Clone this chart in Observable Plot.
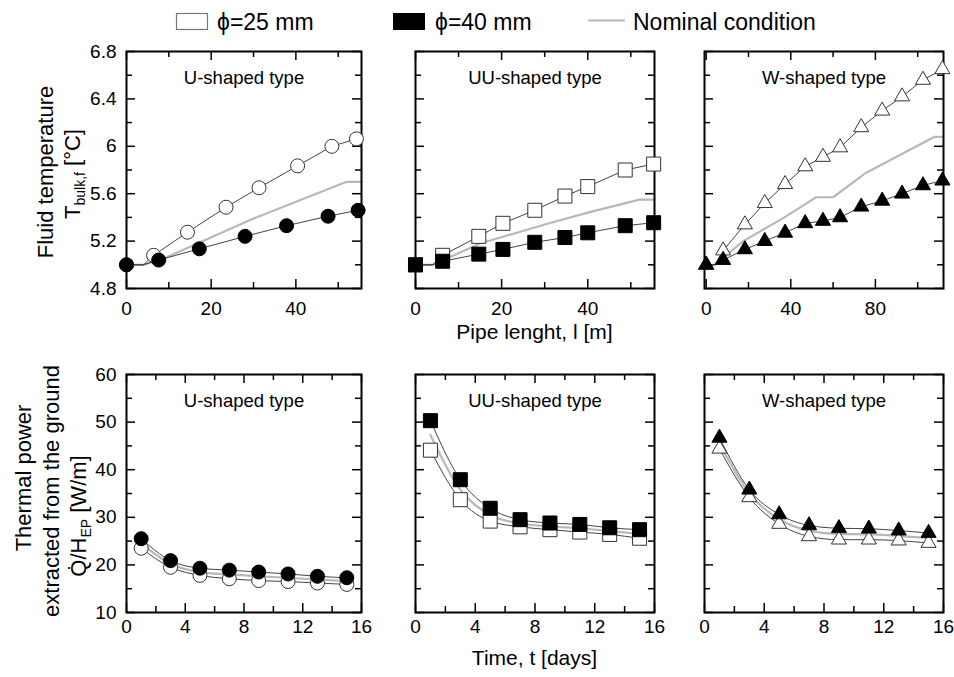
<!DOCTYPE html>
<html><head><meta charset="utf-8">
<script src="https://cdn.jsdelivr.net/npm/d3@7"></script>
<script src="https://cdn.jsdelivr.net/npm/@observablehq/plot@0.6"></script>
<style>
body{margin:0;background:#fff;}
#chart{position:relative;width:954px;height:677px;overflow:hidden;}
#chart svg{position:absolute;}
</style></head><body><div id="chart"></div>
<script>
// ---------- DATA ----------
// Top row: fluid temperature [°C] vs pipe length [m]
const flatStartLen = [0, 4];           // inlet section where lines stay flat
const inletT = 5.0;

const uLen25 = [0, 6.4, 14.4, 23.5, 31.3, 40.4, 48.5, 54.3];
const uT25   = [5.0, 5.08, 5.275, 5.486, 5.65, 5.835, 6.0, 6.063];
const uLen40 = [0, 7.6, 17.2, 28.0, 37.8, 47.6, 54.7];
const uT40   = [5.0, 5.04, 5.135, 5.24, 5.33, 5.41, 5.46];
const uNomLen = [0, 4, 8.6, 30, 52, 55.5];
const uNomT   = [5.0, 5.0, 5.05, 5.39, 5.70, 5.70];

const uuLen  = [0, 6.3, 14.7, 20.3, 27.7, 34.7, 40.0, 48.7, 55.3];
const uuT25  = [5.0, 5.08, 5.24, 5.35, 5.46, 5.58, 5.66, 5.80, 5.85];
const uuT40  = [5.0, 5.03, 5.09, 5.13, 5.19, 5.23, 5.27, 5.33, 5.355];
const uuNomLen = [0, 4, 15, 30, 40, 52, 55.5];
const uuNomT   = [5.0, 5.0, 5.18, 5.34, 5.44, 5.55, 5.55];

const wLen  = [0, 8.0, 18.3, 27.7, 37.3, 46.8, 55.2, 63.3, 73.3, 83.2, 92.6, 102.5, 111.7];
const wT25  = [5.0, 5.12, 5.34, 5.52, 5.68, 5.83, 5.91, 5.99, 6.16, 6.30, 6.42, 6.56, 6.65];
const wT40  = [5.0, 5.04, 5.13, 5.20, 5.27, 5.35, 5.37, 5.40, 5.49, 5.54, 5.60, 5.67, 5.71];
const wNomLen = [0, 4, 17.5, 37, 52, 60, 75, 108, 112];
const wNomT   = [5.0, 5.0, 5.2, 5.4, 5.57, 5.57, 5.77, 6.08, 6.08];

// Bottom row: thermal power [W/m] vs time [days]
const days   = [1, 3, 5, 7, 9, 11, 13, 15];
const uQ25   = [23.5, 19.5, 17.8, 17.1, 16.7, 16.5, 16.2, 15.9];
const uQ40   = [25.5, 20.9, 19.3, 18.9, 18.5, 18.1, 17.6, 17.3];
const uQnom  = [24.5, 20.2, 18.5, 18.0, 17.6, 17.3, 16.9, 16.6];
const uuQ25  = [44.1, 33.7, 29.2, 28.0, 27.4, 26.9, 26.4, 25.6];
const uuQ40  = [50.3, 37.9, 31.9, 29.5, 28.8, 28.5, 27.8, 27.4];
const uuQnom = [47.3, 35.8, 30.5, 28.7, 28.1, 27.7, 27.1, 26.5];
const wQ25   = [44.4, 34.2, 28.6, 26.0, 25.3, 25.3, 25.1, 24.6];
const wQ40   = [46.7, 35.8, 30.6, 28.3, 27.7, 27.6, 27.2, 26.7];
const wQnom  = [45.5, 35.0, 29.6, 27.2, 26.5, 26.4, 26.1, 25.6];

// Ticks
const lenTicks = [0, 20, 40], lenMinor = [10, 30, 50];
const wLenTicks = [0, 40, 80], wLenMinor = [20, 60, 100];
const tTicks = [4.8, 5.2, 5.6, 6, 6.4, 6.8], tMinor = [5.0, 5.4, 5.8, 6.2, 6.6];
const dayTicks = [0, 4, 8, 12, 16], dayMinor = [2, 6, 10, 14];
const qTicks = [10, 20, 30, 40, 50, 60], qMinor = [15, 25, 35, 45, 55];

const titles = ["U-shaped type", "UU-shaped type", "W-shaped type"];
const legendLabels = ["\u03D5=25 mm", "\u03D5=40 mm", "Nominal condition"];

// ---------- LAYOUT ----------
const FONT = '"Liberation Sans", Arial, Helvetica, sans-serif';
const cols = [[126, 361], [415, 654], [704, 943]];
const rows = [[51, 288], [374, 612]];
const M = {l: 60, r: 20, t: 20, b: 40};

const pts = (xs, ys) => xs.map((x, i) => ({x, y: ys[i]}));
const withFlat = (xs, ys) => [...flatStartLen.map(x => ({x, y: inletT})), ...pts(xs, ys).slice(1)];

function panel(cfg) {
  const [x0, x1] = cfg.col, [y0, y1] = cfg.row;
  const fw = x1 - x0, fh = y1 - y0;
  const tk = {stroke: "black", strokeWidth: 1.5};
  const big = 9, small = 6;
  const marks = [
    Plot.line(cfg.nominal, {x: "x", y: "y", stroke: "#b8b8b8", strokeWidth: 2.2, curve: cfg.curve}),
    Plot.line(cfg.openLine, {x: "x", y: "y", stroke: "#444", strokeWidth: 1, curve: cfg.curve}),
    Plot.line(cfg.filledLine, {x: "x", y: "y", stroke: "#444", strokeWidth: 1, curve: cfg.curve}),
    Plot.ruleX(cfg.xMajor, {...tk, insetTop: fh - big}),
    Plot.ruleX(cfg.xMajor, {...tk, insetBottom: fh - big}),
    Plot.ruleX(cfg.xMinor, {...tk, insetTop: fh - small}),
    Plot.ruleX(cfg.xMinor, {...tk, insetBottom: fh - small}),
    Plot.ruleY(cfg.yMajor, {...tk, insetRight: fw - big}),
    Plot.ruleY(cfg.yMajor, {...tk, insetLeft: fw - big}),
    Plot.ruleY(cfg.yMinor, {...tk, insetRight: fw - small}),
    Plot.ruleY(cfg.yMinor, {...tk, insetLeft: fw - small}),
    Plot.axisX({ticks: cfg.xMajor, tickSize: 0, tickPadding: cfg.xPad, tickFormat: d => `${d}`, fontSize: 19, label: null}),
    Plot.frame({stroke: "black", strokeWidth: 2}),
    Plot.text([cfg.title], {text: d => d, frameAnchor: "top", lineAnchor: "middle", dy: 27, fontSize: 18.5, fill: "black"}),
    Plot.dot(cfg.openPts, {x: "x", y: "y", symbol: cfg.symbol, r: cfg.r, fill: "white", stroke: "#333", strokeWidth: 1}),
    Plot.dot(cfg.filledPts, {x: "x", y: "y", symbol: cfg.symbol, r: cfg.r, fill: "black", stroke: "black", strokeWidth: 1})
  ];
  if (cfg.showY) marks.push(Plot.axisY({ticks: cfg.yMajor, tickSize: 0, tickPadding: 10, tickFormat: d => `${d}`, fontSize: 19, label: null}));
  const svg = Plot.plot({
    width: fw + M.l + M.r, height: fh + M.t + M.b,
    marginLeft: M.l, marginRight: M.r, marginTop: M.t, marginBottom: M.b,
    x: {domain: cfg.xDomain, label: null},
    y: cfg.showY ? {domain: cfg.yDomain, label: null} : {domain: cfg.yDomain, axis: null, label: null},
    style: {fontFamily: FONT, fontSize: "19px", color: "black", background: "transparent", overflow: "visible"},
    marks
  });
  svg.style.position = "absolute";
  svg.style.left = (x0 - M.l) + "px";
  svg.style.top = (y0 - M.t) + "px";
  svg.style.maxWidth = "none";
  return svg;
}

const chart = document.getElementById("chart");
const topCommon = {row: rows[0], yDomain: [4.8, 6.8], yMajor: tTicks, yMinor: tMinor, xPad: 13, curve: "linear"};
const botCommon = {row: rows[1], xDomain: [0, 16], xMajor: dayTicks, xMinor: dayMinor, yDomain: [10, 60], yMajor: qTicks, yMinor: qMinor, xPad: 7, curve: "monotone-x"};

const panels = [
  {...topCommon, col: cols[0], showY: true, title: titles[0], xDomain: [0, 55.5], xMajor: lenTicks, xMinor: lenMinor,
   symbol: "circle", r: 7,
   openPts: pts(uLen25, uT25), filledPts: pts(uLen40, uT40),
   openLine: withFlat(uLen25, uT25), filledLine: withFlat(uLen40, uT40), nominal: pts(uNomLen, uNomT)},
  {...topCommon, col: cols[1], showY: false, title: titles[1], xDomain: [0, 55.5], xMajor: lenTicks, xMinor: lenMinor,
   symbol: "square", r: 7.9,
   openPts: pts(uuLen, uuT25), filledPts: pts(uuLen, uuT40),
   openLine: withFlat(uuLen, uuT25), filledLine: withFlat(uuLen, uuT40), nominal: pts(uuNomLen, uuNomT)},
  {...topCommon, col: cols[2], showY: false, title: titles[2], xDomain: [-0.8, 112.2], xMajor: wLenTicks, xMinor: wLenMinor,
   symbol: "triangle", r: 5.6,
   openPts: pts(wLen, wT25), filledPts: pts(wLen, wT40),
   openLine: withFlat(wLen, wT25), filledLine: withFlat(wLen, wT40), nominal: pts(wNomLen, wNomT)},
  {...botCommon, col: cols[0], showY: true, title: titles[0], symbol: "circle", r: 7,
   openPts: pts(days, uQ25), filledPts: pts(days, uQ40),
   openLine: pts(days, uQ25), filledLine: pts(days, uQ40), nominal: pts(days, uQnom)},
  {...botCommon, col: cols[1], showY: false, title: titles[1], symbol: "square", r: 7.9,
   openPts: pts(days, uuQ25), filledPts: pts(days, uuQ40),
   openLine: pts(days, uuQ25), filledLine: pts(days, uuQ40), nominal: pts(days, uuQnom)},
  {...botCommon, col: cols[2], showY: false, title: titles[2], symbol: "triangle", r: 5.6,
   openPts: pts(days, wQ25), filledPts: pts(days, wQ40),
   openLine: pts(days, wQ25), filledLine: pts(days, wQ40), nominal: pts(days, wQnom)}
];
panels.forEach(p => chart.appendChild(panel(p)));

// ---------- OVERLAY: legend and axis titles ----------
const ov = d3.create("svg").attr("width", 954).attr("height", 677)
  .style("left", "0px").style("top", "0px").style("pointer-events", "none")
  .attr("font-family", FONT).attr("fill", "black");

// legend
ov.append("rect").attr("x", 176.5).attr("y", 13.5).attr("width", 31).attr("height", 16).attr("fill", "white").attr("stroke", "#777").attr("stroke-width", 1.2);
ov.append("text").attr("x", 217).attr("y", 30).attr("font-size", 23).text(legendLabels[0]);
ov.append("rect").attr("x", 393).attr("y", 13).attr("width", 32).attr("height", 17).attr("fill", "black");
ov.append("text").attr("x", 435).attr("y", 30).attr("font-size", 23).text(legendLabels[1]);
ov.append("line").attr("x1", 588).attr("x2", 625).attr("y1", 20.5).attr("y2", 20.5).attr("stroke", "#b8b8b8").attr("stroke-width", 2.2);
ov.append("text").attr("x", 633).attr("y", 30).attr("font-size", 23).text(legendLabels[2]);

// x titles
ov.append("text").attr("x", 534.5).attr("y", 339).attr("font-size", 21).attr("text-anchor", "middle").text("Pipe lenght, l [m]");
ov.append("text").attr("x", 534.5).attr("y", 665).attr("font-size", 21).attr("text-anchor", "middle").text("Time, t [days]");

// y titles (rotated)
function vtext(x, y, parts) {
  const t = ov.append("text").attr("transform", `translate(${x},${y}) rotate(-90)`)
    .attr("text-anchor", "middle").attr("font-size", 22);
  let shift = 0;
  parts.forEach(([s, sub]) => {
    const ts = t.append("tspan").text(s);
    const want = sub ? 5 : 0;
    if (want !== shift) { ts.attr("dy", want - shift); shift = want; }
    if (sub) ts.attr("font-size", 14);
  });
}
vtext(53, 172, [["Fluid temperature"]]);
vtext(80, 174, [["T"], ["bulk,f", true], [" [°C]"]]);
vtext(31, 478, [["Thermal power"]]);
vtext(59, 491, [["extracted from the ground"]]);
vtext(86, 516, [["Q\u0307/H"], ["EP", true], [" [W/m]"]]);

chart.appendChild(ov.node());
</script></body></html>
